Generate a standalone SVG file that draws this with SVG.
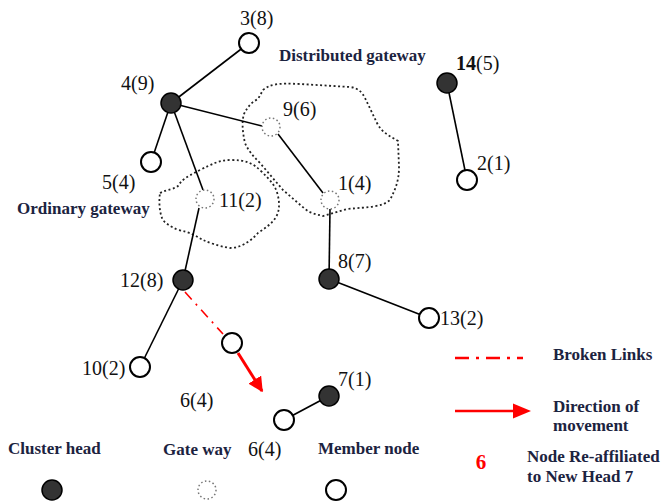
<svg xmlns="http://www.w3.org/2000/svg" width="662" height="504" viewBox="0 0 662 504">
<style>
.lbl{font-family:"Liberation Serif","Times New Roman",serif;font-size:20px;fill:#111}
.leg{font-family:"Liberation Serif","Times New Roman",serif;font-size:17px;font-weight:bold;fill:#1c2340}
.ch{fill:#333;stroke:#000;stroke-width:1.5}
.mem{fill:#fff;stroke:#000;stroke-width:2}
.gw{fill:#fff;stroke:#777;stroke-width:1.5;stroke-dasharray:1.5 2.5}
.link{stroke:#000;stroke-width:1.6;fill:none}
.cloud{fill:none;stroke:#222;stroke-width:1.8;stroke-dasharray:2 2.5}
</style>
<defs>
<marker id="ah" viewBox="0 0 10 10" refX="9" refY="5" markerWidth="5" markerHeight="5" orient="auto" markerUnits="strokeWidth">
<path d="M0,0 L10,5 L0,10 z" fill="#f00"/>
</marker>
</defs>
<rect width="662" height="504" fill="#fff"/>

<g id="clouds">
<path class="cloud" d="M263,90 C270,84 278,83 300,84 L350,87 C358,88 362,92 365,98 L377,123 C382,133 390,136 398,141 L399,167 C399,180 396,188 390,200 C382,207 370,207 347,209 L323,216 C315,214 310,213 305,209 L283,190 L260,163 C252,155 248,150 245,143 C242,130 242,120 244,114 C248,106 252,102 258,99 Z"/>
<path class="cloud" d="M160,193 C168,189 175,189 178,186 C182,180 184,178 200,170 C212,164 220,160 230,160 C245,160 252,162 262,172 C270,180 276,186 278,196 C280,205 279,212 276,217 C272,224 265,228 258,233 C250,242 240,248 230,248 C218,246 210,243 203,240 C196,236 190,232 178,230 C170,226 164,223 162,218 C159,210 159,200 160,193 Z"/>
</g>

<g id="connectors">
<line class="link" x1="171" y1="103" x2="249" y2="43"/>
<line class="link" x1="171" y1="103" x2="151" y2="162"/>
<line class="link" x1="171" y1="103" x2="262" y2="126"/>
<line class="link" x1="171" y1="103" x2="203" y2="190"/>
<line class="link" x1="278" y1="134" x2="323" y2="193"/>
<line class="link" x1="199" y1="208" x2="183" y2="280"/>
<line class="link" x1="330" y1="209" x2="329" y2="279"/>
<line class="link" x1="329" y1="279" x2="429" y2="318"/>
<line class="link" x1="183" y1="280" x2="140" y2="367"/>
<line class="link" x1="329" y1="396" x2="284" y2="420"/>
<line class="link" x1="447" y1="83" x2="467" y2="180"/>
<line x1="185" y1="292" x2="223" y2="334" stroke="#f00" stroke-width="1.6" stroke-dasharray="10 6 2 6"/>
<line x1="238" y1="353" x2="262" y2="391" stroke="#f00" stroke-width="3" marker-end="url(#ah)"/>
</g>

<g id="n3"><circle class="mem" cx="249" cy="43" r="10"/><text class="lbl" x="240" y="25">3(8)</text></g>
<g id="n4"><circle class="ch" cx="171" cy="103" r="10"/><text class="lbl" x="121" y="90">4(9)</text></g>
<g id="n5"><circle class="mem" cx="151" cy="162" r="10"/><text class="lbl" x="102" y="189">5(4)</text></g>
<g id="n9"><circle class="gw" cx="271" cy="127" r="9"/><text class="lbl" x="283" y="116">9(6)</text></g>
<g id="n11"><circle class="gw" cx="205" cy="199" r="9"/><text class="lbl" x="219" y="207">11(2)</text></g>
<g id="n1"><circle class="gw" cx="330" cy="200" r="9"/><text class="lbl" x="338" y="190">1(4)</text></g>
<g id="n12"><circle class="ch" cx="183" cy="280" r="10"/><text class="lbl" x="120" y="287">12(8)</text></g>
<g id="n8"><circle class="ch" cx="329" cy="279" r="10"/><text class="lbl" x="338" y="268">8(7)</text></g>
<g id="n13"><circle class="mem" cx="429" cy="318" r="10"/><text class="lbl" x="440" y="325">13(2)</text></g>
<g id="n10"><circle class="mem" cx="140" cy="367" r="10"/><text class="lbl" x="82" y="375">10(2)</text></g>
<g id="n6old"><circle class="mem" cx="232" cy="343" r="10"/><text class="lbl" x="180" y="407">6(4)</text></g>
<g id="n7"><circle class="ch" cx="329" cy="396" r="10"/><text class="lbl" x="338" y="386">7(1)</text></g>
<g id="n6"><circle class="mem" cx="284" cy="420" r="10"/><text class="lbl" x="248" y="456">6(4)</text></g>
<g id="n14"><circle class="ch" cx="447" cy="83" r="10"/><text class="lbl" x="456" y="70"><tspan font-weight="bold">14</tspan>(5)</text></g>
<g id="n2"><circle class="mem" cx="467" cy="180" r="10"/><text class="lbl" x="477" y="170">2(1)</text></g>

<g id="labels">
<text class="leg" x="279" y="61">Distributed gateway</text>
<text class="leg" x="17" y="214">Ordinary gateway</text>
</g>

<g id="legend">
<text class="leg" x="8" y="454">Cluster head</text>
<text class="leg" x="163" y="455">Gate way</text>
<text class="leg" x="318" y="454">Member node</text>
<circle class="ch" cx="52" cy="490" r="10"/>
<circle class="gw" cx="207" cy="490" r="9"/>
<circle class="mem" cx="336" cy="490" r="10"/>
<line x1="455" y1="358" x2="523" y2="358" stroke="#f00" stroke-width="2.5" stroke-dasharray="14 7 3 7"/>
<text class="leg" x="553" y="360">Broken Links</text>
<line x1="455" y1="411" x2="514" y2="411" stroke="#f00" stroke-width="2.5"/>
<path d="M513,403.5 L531,411 L513,418.5 z" fill="#f00"/>
<text class="leg" x="553" y="412">Direction of</text>
<text class="leg" x="553" y="431">movement</text>
<text x="481" y="469" text-anchor="middle" font-family="Liberation Serif, serif" font-size="21" font-weight="bold" fill="#f00">6</text>
<text class="leg" x="527" y="462">Node Re-affiliated</text>
<text class="leg" x="527" y="482">to New Head 7</text>
</g>
</svg>
